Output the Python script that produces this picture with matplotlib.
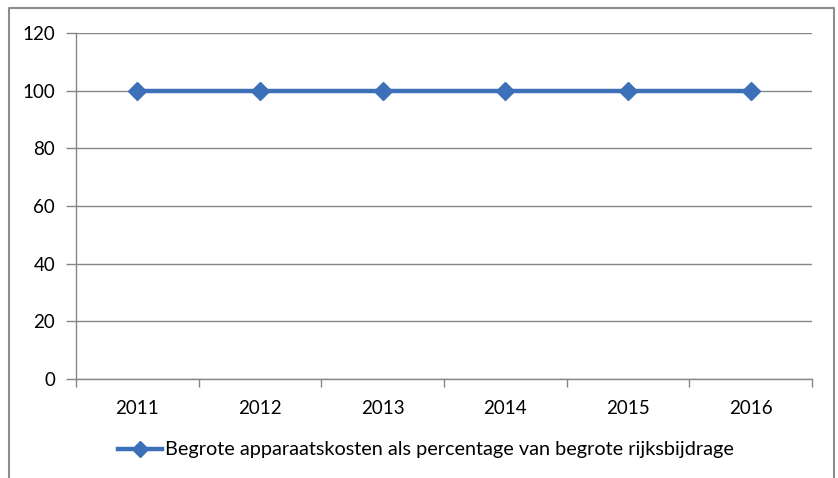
import matplotlib
matplotlib.use("Agg")
import matplotlib.pyplot as plt
import numpy as np
from matplotlib.lines import Line2D

years = ["2011", "2012", "2013", "2014", "2015", "2016"]
values = [100, 100, 100, 100, 100, 100]
series_label = "Begrote apparaatskosten als percentage van begrote rijksbijdrage"
yticks = [0, 20, 40, 60, 80, 100, 120]

plt.rcParams['font.family'] = ['Lato', 'DejaVu Sans']
W, H = 838, 478
fig = plt.figure(figsize=(W / 100, H / 100), dpi=100)
ax = fig.add_axes([76 / W, 1 - 379 / H, (812 - 76) / W, (379 - 33) / H])

gray = "#868686"
blue = "#3C70B8"
x = np.arange(len(years))
ax.plot(x, values, color=blue, lw=3.2, marker="D", markersize=9,
        markerfacecolor=blue, markeredgecolor=blue, zorder=3, clip_on=False)

ax.set_xlim(-0.5, len(years) - 0.5)
ax.set_ylim(0, 120)
ax.set_yticks(yticks)
ax.set_yticklabels([str(v) for v in yticks], fontsize=13.5)
ax.yaxis.grid(True, color=gray, lw=1)
ax.set_axisbelow(True)

ax.set_xticks(np.arange(-0.5, len(years), 1.0))
ax.set_xticklabels([])
ax.set_xticks(x, minor=True)
ax.set_xticklabels(years, minor=True, fontsize=13.5)
ax.tick_params(axis="x", which="major", length=6, color=gray, width=1)
ax.tick_params(axis="x", which="minor", length=0, pad=15)
ax.tick_params(axis="y", length=7, color=gray, width=1, pad=8)

for s in ["top", "right"]:
    ax.spines[s].set_visible(False)
for s in ["left", "bottom"]:
    ax.spines[s].set_color(gray)
    ax.spines[s].set_linewidth(1)

handle = Line2D([], [], color=blue, lw=3.2, marker="D", markersize=8,
                markerfacecolor=blue, markeredgecolor=blue)
fig.legend([handle], [series_label], loc="center", bbox_to_anchor=(426 / W, 1 - 450 / H),
           frameon=False, fontsize=14.3, handlelength=2.2, handletextpad=0.15)

# outer frame
fx0, fx1, fy0 = 9 / W, 834 / W, 1 - 8 / H
fig.add_artist(Line2D([fx0, fx0, fx1, fx1], [0, fy0, fy0, 0], color="#8c8c8c", lw=1.5,
                      transform=fig.transFigure))

fig.savefig("out.png", dpi=100)
